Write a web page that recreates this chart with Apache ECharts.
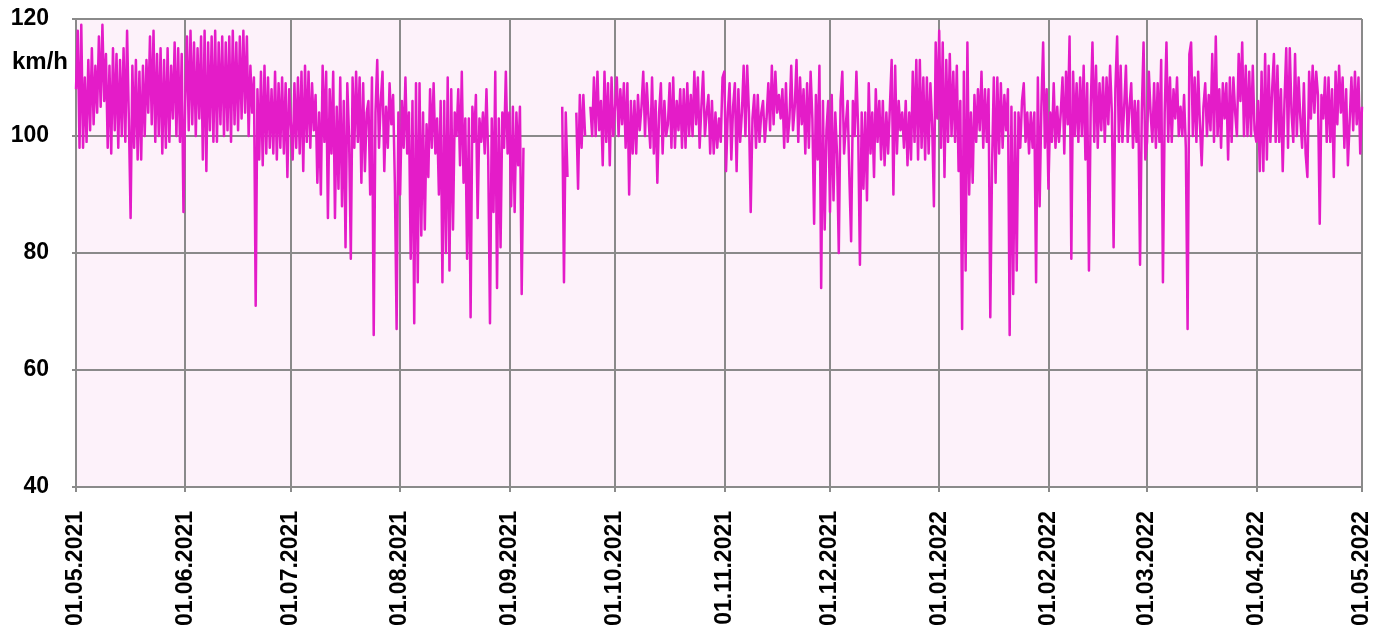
<!DOCTYPE html>
<html>
<head>
<meta charset="utf-8">
<title>km/h</title>
<script src="https://cdn.jsdelivr.net/npm/echarts@6/dist/echarts.min.js"></script>
<style>
  html, body { margin: 0; padding: 0; background: #ffffff; }
  #chart { width: 1388px; height: 633px; }
</style>
</head>
<body>
<div id="chart"></div>
<script>
// Speed readings, two per day (00:00 and 12:00 UTC), one array per month.
// null marks periods without data.
const may21 = [108,118,98,119,98,110,99,113,101,115,102,112,104,117,105,119,106,114,98,112,97,115,101,114,98,113,100,115,99,118,103,86,112,98,113,96,111,96,112,100,113,104,117,102,118,99,114,100,115,97,113,98,115,99,112,103,116,100,115,99,114,87];
const jun21 = [106,117,101,118,102,116,100,115,103,117,96,118,94,116,101,117,99,118,99,116,102,117,100,116,101,117,99,118,102,116,101,117,103,118,104,117,100,112,104,110,71,108,96,111,95,112,97,110,98,108,97,111,96,109,98,110,97,109,93,108];
const jul21 = [108,96,109,98,110,97,111,94,112,99,111,98,109,101,107,92,104,90,112,99,111,86,108,97,111,86,105,91,110,88,106,81,109,100,79,110,98,111,99,110,92,109,94,104,106,90,110,66,104,113,98,106,111,94,105,98,109,102,107,92,67,104];
const aug21 = [90,106,98,110,97,104,79,106,68,109,75,109,83,104,84,102,93,108,98,109,97,103,90,106,75,106,80,110,77,108,84,104,100,108,95,111,92,103,79,103,69,105,99,107,86,103,99,104,97,108,96,68,103,87,111,74,103,81,104,98,111,97];
const sep21 = [104,88,105,87,104,95,105,73,98,null,null,null,null,null,null,null,null,null,null,null,null,null,null,null,null,null,null,null,null,null,105,75,104,93,null,null,null,null,104,91,107,98,107,100,null,null,105,100,110,100,111,101,106,95,111,99,109,95,110,100];
const oct21 = [100,110,100,108,102,109,98,109,90,106,97,106,97,107,101,105,111,100,109,103,98,110,97,106,92,104,109,97,106,100,102,109,98,110,98,106,101,108,98,108,98,109,100,107,100,111,102,110,98,105,111,100,104,107,97,106,97,104,98,103,99,110];
const nov21 = [111,94,104,109,96,105,109,94,108,99,104,112,100,112,104,87,103,107,98,107,99,104,106,99,103,109,101,112,102,111,104,107,103,108,98,109,99,103,112,101,105,113,99,110,102,108,97,109,98,111,103,85,107,96,112,74,106,84,101,106];
const dec21 = [87,107,89,104,97,80,106,111,97,102,106,93,82,106,100,111,101,78,104,91,104,89,109,97,104,93,108,99,106,96,106,95,104,97,105,113,90,112,97,106,101,104,98,106,95,104,96,111,99,113,96,113,98,110,96,110,97,109,102,88,116,103];
const jan22 = [118,98,116,93,113,99,114,100,111,99,112,94,106,67,111,77,116,90,104,92,107,99,108,101,111,98,108,99,108,69,95,110,92,110,97,109,98,107,101,108,66,105,73,104,77,104,98,106,109,99,104,97,104,98,104,75,110,88,105,116,98,108];
const feb22 = [91,104,99,109,98,105,99,104,110,97,111,102,117,79,111,100,109,99,110,100,112,96,109,77,105,116,99,112,98,109,101,110,99,110,102,112,104,81,108,117,99,112,99,105,112,99,105,109,98,106,99,106,78,104,116,96];
const mar22 = [99,111,104,99,109,98,109,99,113,75,104,116,99,110,99,108,103,110,100,105,100,107,98,67,114,116,100,110,99,111,102,95,105,109,100,107,101,114,99,117,100,108,98,109,103,109,96,110,99,110,104,100,114,106,116,100,112,100,111,100,112,101];
const apr22 = [99,106,94,111,94,114,96,112,99,108,114,99,112,99,108,94,106,115,98,115,104,99,114,100,110,103,98,109,97,93,111,103,112,104,111,107,85,107,103,110,99,110,99,108,93,111,102,112,104,110,98,108,95,95,110,101,111,102,110,97];
const may22 = [105];

const monthSeries = [
  [2021, 4, may21], [2021, 5, jun21], [2021, 6, jul21], [2021, 7, aug21],
  [2021, 8, sep21], [2021, 9, oct21], [2021, 10, nov21], [2021, 11, dec21],
  [2022, 0, jan22], [2022, 1, feb22], [2022, 2, mar22], [2022, 3, apr22],
  [2022, 4, may22]
];

const yTicks = [40, 60, 80, 100, 120];
const unitLabel = 'km/h';

const HALF_DAY = 12 * 3600 * 1000;
const points = [];
monthSeries.forEach(function (m) {
  const start = Date.UTC(m[0], m[1], 1);
  m[2].forEach(function (v, i) {
    points.push([start + i * HALF_DAY, v]);
  });
});

function pad(n) { return n < 10 ? '0' + n : '' + n; }
function fmtDate(ts) {
  const d = new Date(ts);
  return pad(d.getUTCDate()) + '.' + pad(d.getUTCMonth() + 1) + '.' + d.getUTCFullYear();
}

const gridColor = '#8a8a8a';
const chart = echarts.init(document.getElementById('chart'), null, { renderer: 'canvas' });

chart.setOption({
  useUTC: true,
  animation: false,
  backgroundColor: '#ffffff',
  textStyle: { fontFamily: 'Liberation Sans, Arial, sans-serif' },
  grid: {
    left: 76, right: 26, top: 19, bottom: 146,
    show: true, backgroundColor: '#fdf2fa', borderWidth: 0
  },
  graphic: [{
    type: 'text', left: 12, top: 50,
    style: { text: unitLabel, fontSize: 24, fontWeight: 'bold', fill: '#000', fontFamily: 'Liberation Sans, Arial, sans-serif' }
  }],
  xAxis: {
    type: 'time',
    min: Date.UTC(2021, 4, 1),
    max: Date.UTC(2022, 4, 1),
    splitNumber: 12,
    minInterval: 28 * 86400000,
    maxInterval: 31 * 86400000,
    axisLine: { show: true, lineStyle: { color: gridColor, width: 2 } },
    axisTick: { show: true, length: 5, lineStyle: { color: gridColor, width: 2 } },
    splitLine: { show: true, lineStyle: { color: gridColor, width: 2 } },
    axisLabel: {
      rotate: 90, margin: 24, fontSize: 23, fontWeight: 'bold', color: '#000',
      showMinLabel: true, showMaxLabel: true, hideOverlap: false,
      formatter: function (v) { return fmtDate(v); }
    }
  },
  yAxis: {
    type: 'value',
    min: yTicks[0], max: yTicks[yTicks.length - 1], interval: 20,
    axisLine: { show: true, lineStyle: { color: gridColor, width: 2 } },
    axisTick: { show: true, length: 4, lineStyle: { color: gridColor, width: 2 } },
    splitLine: { show: true, lineStyle: { color: gridColor, width: 2 } },
    axisLabel: { margin: 27, fontSize: 23, fontWeight: 'bold', color: '#000' }
  },
  series: [{
    type: 'line',
    data: points,
    showSymbol: false,
    connectNulls: false,
    sampling: null,
    lineStyle: { color: '#e41cc8', width: 2.5, join: 'round' },
    itemStyle: { color: '#e41cc8' }
  }]
});
</script>
</body>
</html>
